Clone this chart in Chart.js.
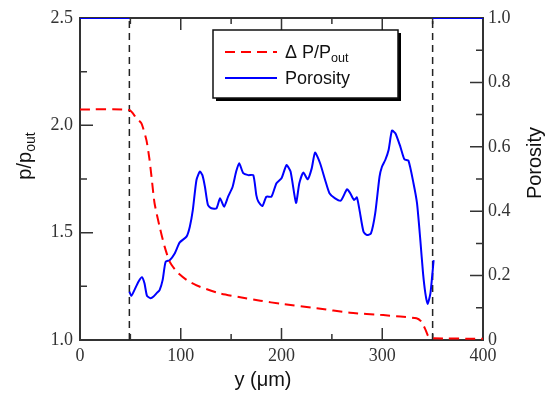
<!DOCTYPE html>
<html>
<head>
<meta charset="utf-8">
<script src="https://cdn.jsdelivr.net/npm/chart.js@4.4.1/dist/chart.umd.min.js"></script>
<style>
  html, body { margin: 0; padding: 0; background: #fff; }
</style>
</head>
<body>
<canvas id="chart" width="555" height="395"></canvas>
<script>
// position along the sample, µm
const pressureX = [0, 49, 56, 61, 66, 69, 71, 74, 79, 84, 89, 96, 106, 119, 139, 159, 179, 200, 235, 268, 301, 318, 334, 339, 343, 346, 351, 400];
// p / p_out
const pressureY = [2.074, 2.071, 2.033, 2.009, 1.93, 1.84, 1.76, 1.637, 1.528, 1.435, 1.365, 1.318, 1.279, 1.248, 1.217, 1.199, 1.183, 1.168, 1.148, 1.127, 1.116, 1.109, 1.101, 1.085, 1.047, 1.015, 1.008, 1.006];

const porosityX = [49, 51, 54, 58, 61.5, 64, 66.5, 70, 73, 76.5, 79, 82, 85, 89, 94, 99, 105.7, 109, 112, 115.6, 119, 121.5, 124, 127, 130.5, 135.5, 139, 143, 147, 151.5, 155, 158, 162, 167, 172, 175, 177, 181, 185, 190, 195, 200, 205, 209, 214.4, 217.7, 221.7, 226, 230, 233.3, 238.3, 243.3, 247.6, 253.2, 259, 265, 268, 272, 274.8, 277.4, 281.4, 284.8, 288.8, 293, 297.3, 299.7, 303, 306.3, 309.6, 313, 318, 322, 326, 331, 334.5, 337.8, 340.5, 342.8, 345, 347.8, 349.8, 351];
const porosityY = [0.150, 0.137, 0.155, 0.181, 0.195, 0.176, 0.137, 0.13, 0.135, 0.147, 0.155, 0.186, 0.243, 0.248, 0.269, 0.303, 0.321, 0.352, 0.404, 0.497, 0.523, 0.512, 0.476, 0.419, 0.409, 0.409, 0.44, 0.414, 0.445, 0.476, 0.523, 0.549, 0.518, 0.512, 0.512, 0.45, 0.43, 0.416, 0.445, 0.445, 0.487, 0.502, 0.543, 0.523, 0.426, 0.487, 0.52, 0.499, 0.533, 0.582, 0.549, 0.497, 0.456, 0.44, 0.433, 0.468, 0.457, 0.435, 0.443, 0.404, 0.336, 0.326, 0.331, 0.393, 0.507, 0.538, 0.559, 0.59, 0.65, 0.642, 0.6, 0.561, 0.557, 0.487, 0.425, 0.31, 0.207, 0.145, 0.112, 0.145, 0.207, 0.248];

// outside the porous layer porosity is 1
const wallLeftX = [0, 49];
const wallRightX = [350, 400];
const wallPorosity = 1.0;

// dashed boundaries of the layer
const boundaryX = [49, 350];

const xTicks = [0, 100, 200, 300, 400];
const pTicks = [1.0, 1.5, 2.0, 2.5];
const porTicks = [0, 0.2, 0.4, 0.6, 0.8, 1.0];

const zip = (xs, ys) => xs.map((x, i) => ({ x: x, y: ys[i] }));
const isMajor = (v, list) => list.some(t => Math.abs(t - v) < 1e-6);

const tickFont = { family: "'Liberation Serif', 'DejaVu Serif', serif", size: 18 };
const sansFont = "'Liberation Sans', Arial, sans-serif";

// text with a subscript part, centred on x, middle on y
function drawRich(ctx, parts, x, y, size) {
  const widths = parts.map(p => {
    ctx.font = (p.sub ? size * 0.7 : size) + "px " + sansFont;
    return ctx.measureText(p.t).width;
  });
  let cx = x - widths.reduce((a, b) => a + b, 0) / 2;
  ctx.textBaseline = "middle";
  ctx.textAlign = "left";
  parts.forEach((p, i) => {
    ctx.font = (p.sub ? size * 0.7 : size) + "px " + sansFont;
    ctx.fillText(p.t, cx, p.sub ? y + size * 0.3 : y);
    cx += widths[i];
  });
}

const frameAndTicks = {
  id: "frameAndTicks",
  beforeDatasetsDraw(chart) {
    const { ctx, chartArea: a, scales } = chart;
    ctx.save();
    ctx.strokeStyle = "#333";
    ctx.lineWidth = 2;
    ctx.strokeRect(a.left, a.top, a.right - a.left, a.bottom - a.top);
    ctx.lineWidth = 1.5;
    ctx.beginPath();
    scales.x.ticks.forEach(t => {
      const px = scales.x.getPixelForValue(t.value);
      const len = t.label ? 12 : 6;
      ctx.moveTo(px, a.bottom); ctx.lineTo(px, a.bottom - len);
      ctx.moveTo(px, a.top); ctx.lineTo(px, a.top + len);
    });
    scales.y.ticks.forEach(t => {
      const py = scales.y.getPixelForValue(t.value);
      const len = t.label ? 13 : 7;
      ctx.moveTo(a.left, py); ctx.lineTo(a.left + len, py);
    });
    scales.y2.ticks.forEach(t => {
      const py = scales.y2.getPixelForValue(t.value);
      const len = t.label ? 13 : 7;
      ctx.moveTo(a.right, py); ctx.lineTo(a.right - len, py);
    });
    ctx.stroke();
    ctx.restore();
  },
  afterDraw(chart) {
    const ctx = chart.ctx;
    ctx.save();
    ctx.fillStyle = "#111";
    // axis titles
    ctx.save();
    ctx.translate(25, 156);
    ctx.rotate(-Math.PI / 2);
    drawRich(ctx, [{ t: "p/p" }, { t: "out", sub: true }], 0, 0, 20);
    ctx.restore();
    ctx.save();
    ctx.translate(535, 163);
    ctx.rotate(-Math.PI / 2);
    drawRich(ctx, [{ t: "Porosity" }], 0, 0, 20);
    ctx.restore();
    drawRich(ctx, [{ t: "y (\u03bcm)" }], 263, 380, 20);

    // legend box with shadow
    const bx = 213, by = 30, bw = 185, bh = 68;
    ctx.fillStyle = "#000";
    ctx.fillRect(bx + 3, by + 3, bw, bh);
    ctx.fillStyle = "#fff";
    ctx.fillRect(bx, by, bw, bh);
    ctx.strokeStyle = "#111";
    ctx.lineWidth = 1.5;
    ctx.strokeRect(bx, by, bw, bh);

    const items = chart.data.datasets.filter(d => d.inLegend);
    items.forEach((d, i) => {
      const ly = 52 + i * 26;
      ctx.strokeStyle = d.borderColor;
      ctx.lineWidth = d.borderWidth;
      ctx.setLineDash(d.borderDash || []);
      ctx.beginPath();
      ctx.moveTo(225, ly);
      ctx.lineTo(277, ly);
      ctx.stroke();
      ctx.setLineDash([]);
      ctx.fillStyle = "#111";
      const parts = d.richLabel;
      // left aligned at x=285: measure, then centre
      let w = 0;
      parts.forEach(p => { ctx.font = (p.sub ? 18 * 0.7 : 18) + "px " + sansFont; w += ctx.measureText(p.t).width; });
      drawRich(ctx, parts, 285 + w / 2, ly + 1, 18);
    });
    ctx.restore();
  }
};

new Chart(document.getElementById("chart"), {
  type: "line",
  data: {
    datasets: [
      {
        label: "Δ P/Pout",
        richLabel: [{ t: "\u0394 P/P" }, { t: "out", sub: true }],
        inLegend: true,
        data: zip(pressureX, pressureY),
        yAxisID: "y",
        borderColor: "#ff0000",
        borderWidth: 2,
        borderDash: [10, 6],
        pointRadius: 0,
        tension: 0.2
      },
      {
        label: "Porosity",
        richLabel: [{ t: "Porosity" }],
        inLegend: true,
        data: zip(porosityX, porosityY),
        yAxisID: "y2",
        borderColor: "#0000ff",
        borderWidth: 2,
        pointRadius: 0,
        tension: 0.2
      },
      {
        label: "wall left",
        data: wallLeftX.map(x => ({ x: x, y: wallPorosity })),
        yAxisID: "y2",
        borderColor: "#0000ff",
        borderWidth: 2,
        pointRadius: 0
      },
      {
        label: "wall right",
        data: wallRightX.map(x => ({ x: x, y: wallPorosity })),
        yAxisID: "y2",
        borderColor: "#0000ff",
        borderWidth: 2,
        pointRadius: 0
      },
      ...boundaryX.map(bxv => ({
        label: "boundary",
        data: [{ x: bxv, y: pTicks[0] }, { x: bxv, y: pTicks[pTicks.length - 1] }],
        yAxisID: "y",
        borderColor: "#222",
        borderWidth: 1.5,
        borderDash: [7, 5],
        pointRadius: 0
      }))
    ]
  },
  options: {
    responsive: false,
    animation: false,
    devicePixelRatio: 1,
    layout: { padding: { top: 18, left: 0, right: 0, bottom: 0 } },
    plugins: {
      legend: { display: false },
      tooltip: { enabled: false }
    },
    scales: {
      x: {
        type: "linear",
        min: 0, max: 400,
        grid: { display: false, drawTicks: false },
        border: { display: false },
        ticks: {
          stepSize: 50, autoSkip: false, padding: 5,
          color: "#333", font: tickFont,
          callback: v => isMajor(v, xTicks) ? String(v) : ""
        },
        afterFit: s => { s.height = 55; }
      },
      y: {
        position: "left",
        min: 1.0, max: 2.5,
        grid: { display: false, drawTicks: false },
        border: { display: false },
        ticks: {
          stepSize: 0.25, autoSkip: false, padding: 7,
          color: "#333", font: tickFont,
          callback: v => isMajor(v, pTicks) ? v.toFixed(1) : ""
        },
        afterFit: s => { s.width = 80; }
      },
      y2: {
        position: "right",
        min: 0, max: 1.0,
        grid: { display: false, drawTicks: false },
        border: { display: false },
        ticks: {
          stepSize: 0.1, autoSkip: false, padding: 5,
          color: "#333", font: tickFont,
          callback: v => isMajor(v, porTicks) ? (v === 0 ? "0" : v.toFixed(1)) : ""
        },
        afterFit: s => { s.width = 72; }
      }
    }
  },
  plugins: [frameAndTicks]
});
</script>
</body>
</html>
